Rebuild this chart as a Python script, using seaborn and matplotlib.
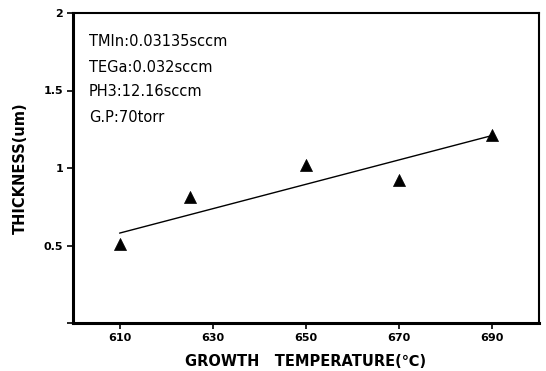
import matplotlib
matplotlib.use("Agg")
import matplotlib.pyplot as plt
import seaborn as sns
import pandas as pd

# data
temperature = [610, 625, 650, 670, 690]
thickness = [0.51, 0.81, 1.02, 0.92, 1.21]
fit_x = [610, 690]
fit_y = [0.58, 1.21]
x_ticks = [610, 630, 650, 670, 690]
y_ticks = [0, 0.5, 1, 1.5, 2]
y_tick_labels = ["", "0.5", "1", "1.5", "2"]
notes = ["TMIn:0.03135sccm", "TEGa:0.032sccm", "PH3:12.16sccm", "G.P:70torr"]

sns.set_theme(style="ticks")
plt.rcParams["font.family"] = ["DejaVu Sans"]
plt.rcParams["text.color"] = "black"
plt.rcParams["axes.labelcolor"] = "black"
plt.rcParams["xtick.color"] = "black"
plt.rcParams["ytick.color"] = "black"

fig = plt.figure(figsize=(5.46, 3.71), dpi=100)
ax = fig.add_axes([73/546, 48/371, (539-73)/546, (323-13)/371])

df = pd.DataFrame({"t": temperature, "h": thickness})
fit = pd.DataFrame({"t": fit_x, "h": fit_y})
sns.lineplot(data=fit, x="t", y="h", ax=ax, color="black", linewidth=1.0)
sns.scatterplot(data=df, x="t", y="h", ax=ax, marker="^", s=75, color="black",
                edgecolor="black", linewidth=0.5, zorder=3)

ax.set_xlim(600, 700)
ax.set_ylim(0, 2)
ax.set_xticks(x_ticks)
ax.set_xticklabels([str(v) for v in x_ticks], fontsize=8, fontweight="bold")
ax.set_yticks(y_ticks)
ax.set_yticklabels(y_tick_labels, fontsize=8, fontweight="bold")
ax.tick_params(axis="both", direction="out", length=4, width=1.2, color="black", pad=3)

for side in ["left", "bottom"]:
    ax.spines[side].set_linewidth(2.2)
for side in ["top", "right"]:
    ax.spines[side].set_visible(True)
    ax.spines[side].set_linewidth(1.5)
for s in ax.spines.values():
    s.set_color("black")

ax.set_xlabel("GROWTH   TEMPERATURE(\u2103)", fontsize=10.5, fontweight="bold", labelpad=8)
ax.set_ylabel("THICKNESS(um)", fontsize=10.5, fontweight="bold", labelpad=11)

y_px = [41, 68, 91, 117]
for txt, yp in zip(notes, y_px):
    ax.text((89-73)/(539-73), 1 - (yp-13)/(323-13), txt, transform=ax.transAxes,
            fontsize=10.5, va="center", ha="left", color="black")

fig.savefig("out.png", dpi=100)
